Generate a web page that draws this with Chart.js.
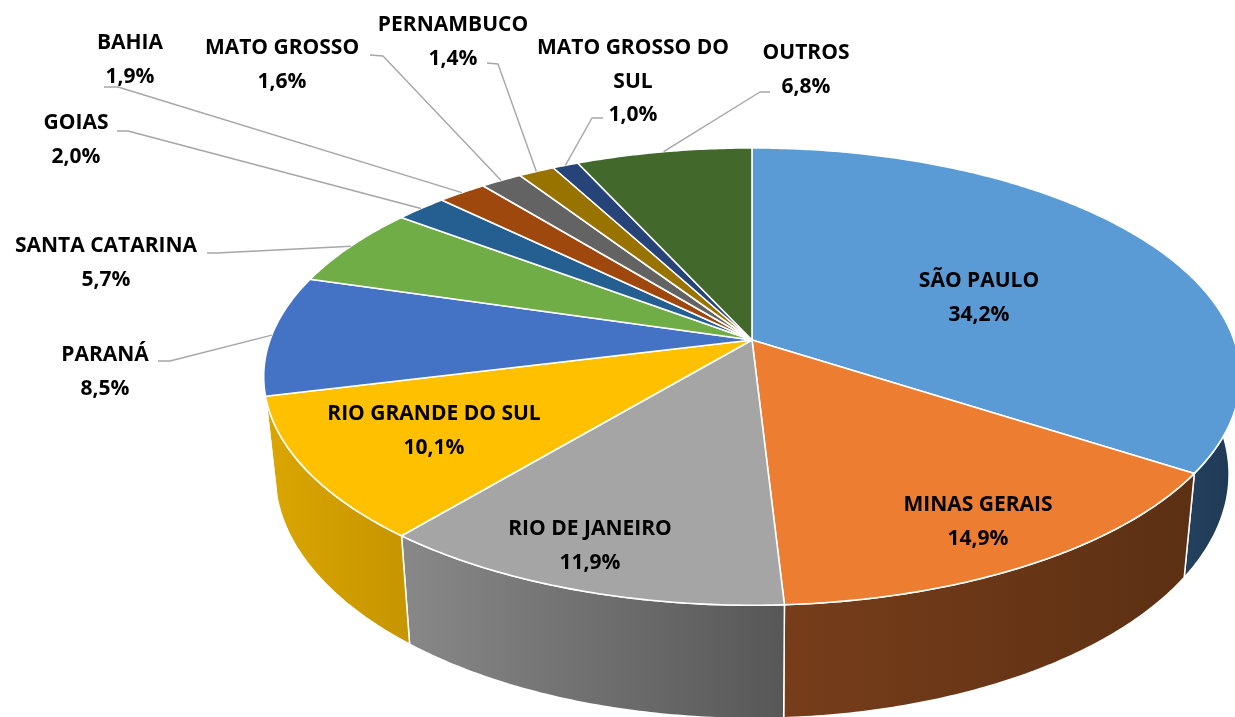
<!DOCTYPE html>
<html>
<head>
<meta charset="utf-8">
<script src="https://cdn.jsdelivr.net/npm/chart.js@4.4.1/dist/chart.umd.min.js"></script>
<style>
  html, body { margin: 0; padding: 0; background: #fff; overflow: hidden; }
  #wrap { width: 1235px; height: 717px; }
</style>
</head>
<body>
<div id="wrap"><canvas id="pie" width="1235" height="717"></canvas></div>
<script>
/* 3D pie: share of each state */

const STATES = ['SÃO PAULO', 'MINAS GERAIS', 'RIO DE JANEIRO', 'RIO GRANDE DO SUL', 'PARANÁ',
  'SANTA CATARINA', 'GOIAS', 'BAHIA', 'MATO GROSSO', 'PERNAMBUCO', ['MATO GROSSO DO', 'SUL'], 'OUTROS'];
const SHARES = [34.2, 14.9, 11.9, 10.1, 8.5, 5.7, 2.0, 1.9, 1.6, 1.4, 1.0, 6.8];

const TOP_COLORS = ['#5b9bd5', '#ed7d31', '#a5a5a5', '#ffc000', '#4472c4', '#70ad47',
  '#255e91', '#9e480e', '#636363', '#997300', '#264478', '#43682b'];
const SIDE_COLORS = [
  ['#223f5c', '#1f3a55'], ['#773d1b', '#5c3013'], ['#888888', '#575757'], ['#dba600', '#c79600'],
  ['#2f4f8a', '#28447a'], ['#4f7a32', '#446a2b'], ['#1a4266', '#163a5a'], ['#70330a', '#622d09'],
  ['#464646', '#3c3c3c'], ['#6c5200', '#5f4800'], ['#1b3055', '#172a4a'], ['#2f4a1f', '#29401b'],
];

/* label layout: centre of first text line, leader line (start, elbow) or null */
const LABEL_POS = [[979, 280], [978, 504], [590, 528], [434, 413], [105, 354], [106, 245],
  [76, 122], [130, 42], [282, 47], [453, 24], [633, 47], [806, 52]];
const LEADERS = [null, null, null, null,
  [[158, 361], [170, 361]], [[207, 253], [217, 253]], [[117, 131], [128, 131]],
  [[104, 87], [118, 87]], [[370, 55], [383, 56]], [[487, 63], [498, 64]],
  [[603, 118], [592, 118]], [[770, 92], [760, 92]]];

/* perspective of the disc */
const G = { cx: 752, p: 168.4, q: 340, r: -0.16, s: 482, h: 95, shrink: 0.977, edge: 0.24 };
const LINE_GAP = 33.5;
const FONT_SIZE = 21;

function rim(a, bottom) {
  const u = Math.cos(a), v = Math.sin(a), den = 1 + G.r * v;
  const k = bottom ? G.shrink : 1;
  return {
    x: G.cx + G.s * k * u / den,
    y: (G.p * v + G.q) / den + (bottom ? G.h / den : 0),
  };
}

function fmt(v) { return v.toFixed(1).replace('.', ',') + '%'; }

const pie3d = {
  id: 'pie3d',
  beforeDatasetsDraw() { return false; },
  afterDraw(chart) {
    const ctx = chart.ctx;
    const arcs = chart.getDatasetMeta(0).data;
    ctx.save();
    ctx.lineJoin = 'round';

    /* outer walls, visible front part only */
    arcs.forEach((arc, i) => {
      const lo = Math.max(arc.startAngle, 0);
      const hi = Math.min(arc.endAngle, Math.PI - G.edge);
      if (hi <= lo) return;
      const n = Math.max(2, Math.ceil((hi - lo) / 0.01));
      ctx.beginPath();
      for (let k = 0; k <= n; k++) {
        const p = rim(lo + (hi - lo) * k / n, false);
        k ? ctx.lineTo(p.x, p.y) : ctx.moveTo(p.x, p.y);
      }
      for (let k = n; k >= 0; k--) {
        const p = rim(lo + (hi - lo) * k / n, true);
        ctx.lineTo(p.x, p.y);
      }
      ctx.closePath();
      const x1 = rim(lo, false).x, x2 = rim(hi, false).x;
      const g = ctx.createLinearGradient(Math.min(x1, x2), 0, Math.max(x1, x2), 0);
      g.addColorStop(0, SIDE_COLORS[i][0]);
      g.addColorStop(1, SIDE_COLORS[i][1]);
      ctx.fillStyle = g;
      ctx.fill();
      ctx.strokeStyle = '#ffffff';
      ctx.lineWidth = 1.5;
      ctx.stroke();
    });

    /* top faces */
    arcs.forEach((arc, i) => {
      const a0 = arc.startAngle, a1 = arc.endAngle;
      const n = Math.max(2, Math.ceil((a1 - a0) / 0.01));
      ctx.beginPath();
      ctx.moveTo(G.cx, G.q);
      for (let k = 0; k <= n; k++) {
        const p = rim(a0 + (a1 - a0) * k / n, false);
        ctx.lineTo(p.x, p.y);
      }
      ctx.closePath();
      ctx.fillStyle = TOP_COLORS[i];
      ctx.fill();
      ctx.strokeStyle = '#ffffff';
      ctx.lineWidth = 1.6;
      ctx.stroke();
    });

    /* leader lines */
    ctx.strokeStyle = '#a6a6a6';
    ctx.lineWidth = 1.4;
    arcs.forEach((arc, i) => {
      const ld = LEADERS[i];
      if (!ld) return;
      const end = rim((arc.startAngle + arc.endAngle) / 2, false);
      ctx.beginPath();
      ctx.moveTo(ld[0][0], ld[0][1]);
      ctx.lineTo(ld[1][0], ld[1][1]);
      ctx.lineTo(end.x, end.y);
      ctx.stroke();
    });

    /* labels */
    ctx.fillStyle = '#000000';
    ctx.font = `bold ${FONT_SIZE}px "Open Sans"`;
    ctx.textAlign = 'center';
    ctx.textBaseline = 'alphabetic';
    const capHalf = FONT_SIZE * 0.357;
    chart.data.labels.forEach((lab, i) => {
      const lines = (Array.isArray(lab) ? lab : [lab]).concat(fmt(SHARES[i]));
      const [x, y] = LABEL_POS[i];
      lines.forEach((t, j) => ctx.fillText(t, x, y + j * LINE_GAP + capHalf));
    });
    ctx.restore();
  },
};

new Chart(document.getElementById('pie'), {
  type: 'pie',
  data: {
    labels: STATES,
    datasets: [{ data: SHARES, backgroundColor: TOP_COLORS, borderWidth: 0 }],
  },
  options: {
    responsive: false,
    animation: false,
    plugins: { legend: { display: false }, tooltip: { enabled: false } },
  },
  plugins: [pie3d],
});
</script>
</body>
</html>
